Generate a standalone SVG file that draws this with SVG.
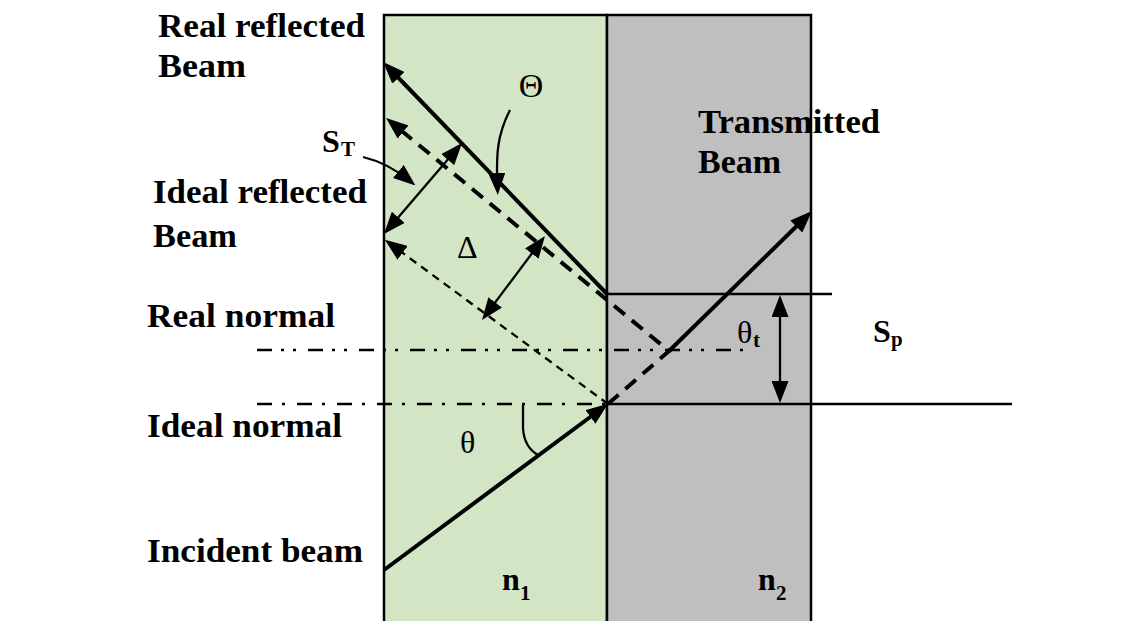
<svg xmlns="http://www.w3.org/2000/svg" width="1143" height="621" viewBox="0 0 1143 621">
<defs>
<style>
.lbl{font-family:"Liberation Serif","Times New Roman",serif;font-weight:bold;font-size:34px;fill:#000}
.sym{font-family:"Liberation Serif","Times New Roman",serif;font-size:32px;fill:#000}
.sub{font-family:"Liberation Serif","Times New Roman",serif;font-weight:bold;font-size:21px;fill:#000}
.thick{stroke:#000;stroke-width:4;fill:none}
.thin{stroke:#000;stroke-width:2.3;fill:none}
.ln{stroke:#000;stroke-width:2.5;fill:none}
</style>
<marker id="ah" viewBox="0 0 22 17" refX="15" refY="8.5" markerWidth="22" markerHeight="17" markerUnits="userSpaceOnUse" orient="auto-start-reverse">
<path d="M0,0 L22,8.5 L0,17 z" fill="#000"/>
</marker>
</defs>
<rect width="1143" height="621" fill="#fff"/>
<g id="medium1">
<rect x="384" y="15" width="223" height="620" fill="#d2e6c5" stroke="#000" stroke-width="2.5"/>
</g>
<g id="medium2">
<rect x="607" y="15" width="204" height="620" fill="#bfbfbf" stroke="#000" stroke-width="2.5"/>
</g>
<g id="connectors">
<path class="ln" d="M607,294 H832"/>
<path class="ln" d="M607,404 H1012"/>
<path class="thin" d="M257,350 H743" stroke-dasharray="15 9 3 9 3 12"/>
<path class="thin" d="M257,404 H607" stroke-dasharray="15 10 3 12"/>
<path class="thick" d="M608,295 L388,67" marker-end="url(#ah)"/>
<path class="thick" d="M608,404 L669,351 L391.5,122.5" stroke-dasharray="14 9" marker-end="url(#ah)"/>
<path class="thin" d="M608,404 L390.5,244" stroke-dasharray="8 6" marker-end="url(#ah)"/>
<path class="thin" d="M388.5,228.7 L457.5,148.3" marker-start="url(#ah)" marker-end="url(#ah)"/>
<path class="thin" d="M540.8,241.6 L486.2,314.4" marker-start="url(#ah)" marker-end="url(#ah)"/>
<path class="thick" d="M384,570 L602.4,408" marker-end="url(#ah)"/>
<path class="thick" d="M668,352 L807,216" marker-end="url(#ah)"/>
<path class="thin" d="M780,302 L780,396" marker-start="url(#ah)" marker-end="url(#ah)"/>
<path class="thin" d="M510,110 C497,135 496,155 497.5,188" marker-end="url(#ah)"/>
<path class="thin" d="M363,157 Q388,163 410,181" marker-end="url(#ah)"/>
<path class="thin" d="M523,405 L523,428 Q524,447 538,455"/>
</g>
<g id="labels">
<text class="lbl" x="158" y="37" textLength="207" lengthAdjust="spacingAndGlyphs">Real reflected</text>
<text class="lbl" x="158" y="77" textLength="88" lengthAdjust="spacingAndGlyphs">Beam</text>
<text class="lbl" x="153" y="203" textLength="214" lengthAdjust="spacingAndGlyphs">Ideal reflected</text>
<text class="lbl" x="153" y="247" textLength="84" lengthAdjust="spacingAndGlyphs">Beam</text>
<text class="lbl" x="147" y="327" textLength="188" lengthAdjust="spacingAndGlyphs">Real normal</text>
<text class="lbl" x="147" y="437" textLength="195" lengthAdjust="spacingAndGlyphs">Ideal normal</text>
<text class="lbl" x="147" y="562" textLength="216" lengthAdjust="spacingAndGlyphs">Incident beam</text>
<text class="lbl" x="698" y="133" textLength="182" lengthAdjust="spacingAndGlyphs">Transmitted</text>
<text class="lbl" x="698" y="173" textLength="83" lengthAdjust="spacingAndGlyphs">Beam</text>
<text class="lbl" x="502" y="590" style="font-size:32px">n</text><text class="sub" x="520" y="600">1</text>
<text class="lbl" x="758" y="590" style="font-size:32px">n</text><text class="sub" x="776" y="600">2</text>
<text class="lbl" x="322" y="152" style="font-size:32px">S</text><text class="sub" x="341" y="156">T</text>
<text class="lbl" x="873" y="342" style="font-size:32px">S</text><text class="sub" x="891" y="346">p</text>
<text class="sym" x="737" y="343">θ</text><text class="sub" x="753" y="347">t</text>
<text class="sym" x="531" y="97" text-anchor="middle" style="font-size:34px">Θ</text>
<text class="sym" x="460" y="453">θ</text>
<text class="sym" x="457" y="258">Δ</text>
</g>
</svg>
